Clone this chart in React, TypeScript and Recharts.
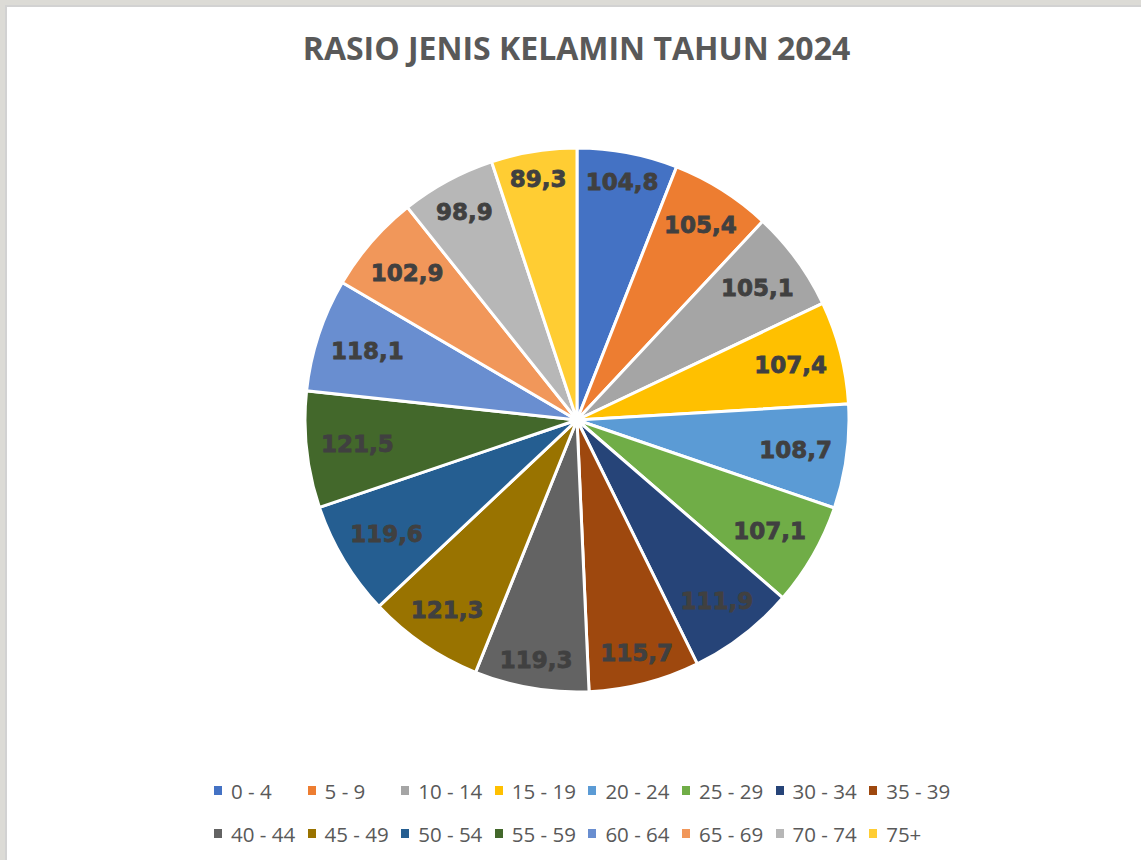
import { PieChart, Pie, Cell, Legend } from 'recharts'

// age groups (kelompok umur) and sex ratio per group, 2024
const ageGroups = [
  '0 - 4', '5 - 9', '10 - 14', '15 - 19', '20 - 24', '25 - 29', '30 - 34', '35 - 39',
  '40 - 44', '45 - 49', '50 - 54', '55 - 59', '60 - 64', '65 - 69', '70 - 74', '75+',
]
const sexRatios = [
  104.8, 105.4, 105.1, 107.4, 108.7, 107.1, 111.9, 115.7,
  119.3, 121.3, 119.6, 121.5, 118.1, 102.9, 98.9, 89.3,
]
const sliceColors = [
  '#4472C4', '#ED7D31', '#A5A5A5', '#FFC000', '#5B9BD5', '#70AD47', '#264478', '#9E480E',
  '#636363', '#997300', '#255E91', '#43682B', '#698ED0', '#F1975A', '#B7B7B7', '#FFCD33',
]

const data = ageGroups.map((name, i) => ({ name, value: sexRatios[i] }))

const RAD = Math.PI / 180

// "inside end" style label: box pushed against the outer edge of the slice
function renderLabel({ cx, cy, midAngle, outerRadius, value }: any) {
  const text = Number(value).toFixed(1).replace('.', ',')
  const digits = text.replace(',', '').length
  const w = digits * 16 + 8.7
  const h = 18
  const cos = Math.cos(-midAngle * RAD)
  const sin = Math.sin(-midAngle * RAD)
  const half = Math.abs(cos) * (w / 2) + Math.abs(sin) * (h / 2)
  const r = outerRadius - 14 - half
  const x = cx + r * cos
  const y = cy + r * sin
  return (
    <text x={x} y={y} fill="#404040" stroke="#404040" strokeWidth={0.8}
      textAnchor="middle" dominantBaseline="central"
      style={{ fontFamily: '"DejaVu Sans", sans-serif', fontWeight: 700, fontSize: 23 }}>
      {text}
    </text>
  )
}

function LegendGrid({ payload }: any) {
  const items = [...(payload || [])].sort(
    (a: any, b: any) => ageGroups.indexOf(a.value) - ageGroups.indexOf(b.value))
  return (
    <div style={{ display: 'flex', flexWrap: 'wrap', width: 760 }}>
      {items.map((entry: any) => (
        <div key={entry.value} style={{ width: 93.6, height: 43, display: 'flex', alignItems: 'center' }}>
          <span style={{
            width: 8, height: 9, marginRight: 9, flexShrink: 0,
            background: sliceColors[ageGroups.indexOf(entry.value)] || entry.color,
          }} />
          <span style={{ fontFamily: '"Open Sans", sans-serif', fontSize: 20.5, color: '#595959', whiteSpace: 'nowrap' }}>
            {entry.value}
          </span>
        </div>
      ))}
    </div>
  )
}

export default function App() {
  return (
    <div style={{ position: 'fixed', left: 0, top: 0, width: 1141, height: 860, background: '#dcdbd6', overflow: 'hidden' }}>
      <div style={{
        position: 'absolute', left: 5, top: 5, width: 1150, height: 870, background: '#fff',
        borderLeft: '2px solid #d2d2d2', borderTop: '2px solid #d2d2d2',
      }} />
      <div style={{
        position: 'absolute', left: 0, top: 32, width: 1153, textAlign: 'center',
        fontFamily: '"Open Sans", sans-serif', fontWeight: 700, fontSize: 32, lineHeight: '32px', color: '#595959',
      }}>
        RASIO JENIS KELAMIN TAHUN 2024
      </div>
      <div style={{ position: 'absolute', left: 0, top: 0 }}>
        <PieChart width={1141} height={860} margin={{ top: 0, right: 0, bottom: 0, left: 0 }}>
          <Pie data={data} dataKey="value" nameKey="name" cx={577} cy={420} outerRadius={272}
            startAngle={90} endAngle={-270} stroke="#ffffff" strokeWidth={3}
            label={renderLabel} labelLine={false} isAnimationActive={false}>
            {data.map((d, i) => <Cell key={d.name} fill={sliceColors[i]} />)}
          </Pie>
          <Legend content={<LegendGrid />} itemSorter={null as any}
            wrapperStyle={{ position: 'absolute', left: 214, top: 769, width: 760 }} />
        </PieChart>
      </div>
    </div>
  )
}
